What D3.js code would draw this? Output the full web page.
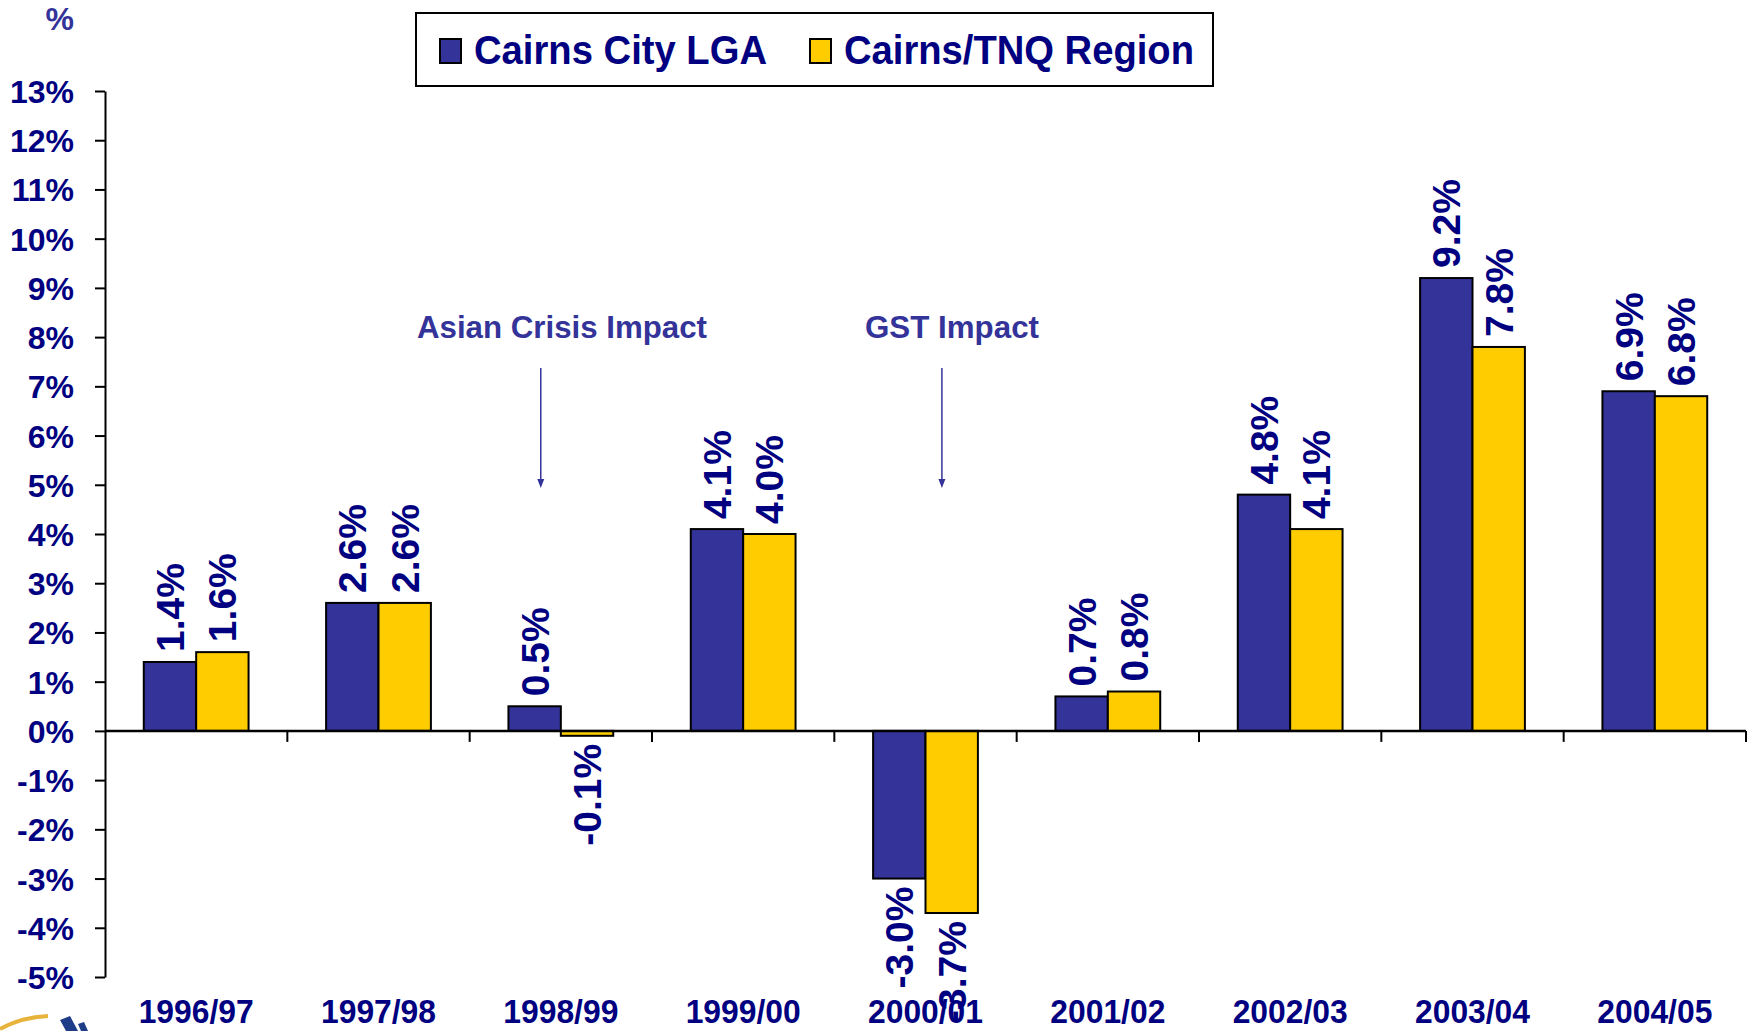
<!DOCTYPE html>
<html>
<head>
<meta charset="utf-8">
<script src="https://cdn.jsdelivr.net/npm/d3@7"></script>
<style>
  body { margin: 0; background: #fff; }
  svg { display: block; font-family: Arial, "Liberation Sans", sans-serif; }
</style>
</head>
<body>
<div class="chart"></div>
<script>
// data
const categories = ["1996/97", "1997/98", "1998/99", "1999/00", "2000/01", "2001/02", "2002/03", "2003/04", "2004/05"];
const seriesNames = ["Cairns City LGA", "Cairns/TNQ Region"];
const cityValues = [1.4, 2.6, 0.5, 4.1, -3.0, 0.7, 4.8, 9.2, 6.9];
const regionValues = [1.6, 2.6, -0.1, 4.0, -3.7, 0.8, 4.1, 7.8, 6.8];
const yTicks = [-5, -4, -3, -2, -1, 0, 1, 2, 3, 4, 5, 6, 7, 8, 9, 10, 11, 12, 13];
const annotations = ["Asian Crisis Impact", "GST Impact"];
const annotationCats = ["1998/99", "2000/01"];

const colors = ["#333399", "#FFCC00"];
const navy = "#000080";

const width = 1748, height = 1031;

const svg = d3.select(".chart")
  .append("svg")
  .attr("width", width)
  .attr("height", height);

const x = d3.scaleBand()
  .domain(categories)
  .range([105, 1746])
  .paddingInner(0)
  .paddingOuter(0);

const x1 = d3.scaleBand()
  .domain(seriesNames)
  .range([0, x.bandwidth()])
  .paddingInner(0)
  .paddingOuter(0.74);

const y = d3.scaleLinear()
  .domain([-5, 13])
  .range([977, 91]);

const rows = categories.map((c, i) => ({
  cat: c,
  vals: [
    { name: seriesNames[0], v: cityValues[i], k: 0 },
    { name: seriesNames[1], v: regionValues[i], k: 1 }
  ]
}));

// y axis
const yAxis = d3.axisLeft(y)
  .tickValues(yTicks)
  .tickSize(10)
  .tickSizeOuter(0)
  .tickPadding(21)
  .tickFormat(d => d + "%");

const gy = svg.append("g")
  .attr("transform", "translate(105,0)")
  .call(yAxis);
gy.select(".domain").attr("stroke", "#000").attr("stroke-width", 2);
gy.selectAll(".tick line").attr("stroke", "#000").attr("stroke-width", 2);
gy.selectAll(".tick text")
  .attr("fill", navy)
  .style("font-size", "32px")
  .style("font-weight", "bold")
  .attr("dy", "0.36em");

// % unit label
svg.append("text")
  .attr("x", 74)
  .attr("y", 30)
  .attr("text-anchor", "end")
  .attr("fill", "#333399")
  .style("font-size", "32px")
  .style("font-weight", "bold")
  .text("%");

// bars
const groups = svg.append("g").selectAll("g")
  .data(rows)
  .join("g")
  .attr("transform", d => `translate(${x(d.cat)},0)`);

groups.selectAll("rect")
  .data(d => d.vals)
  .join("rect")
  .attr("x", d => x1(d.name))
  .attr("width", x1.bandwidth())
  .attr("y", d => y(Math.max(0, d.v)))
  .attr("height", d => Math.abs(y(d.v) - y(0)))
  .attr("fill", d => colors[d.k])
  .attr("stroke", "#000")
  .attr("stroke-width", 2);

// x axis line at zero + ticks between categories
svg.append("line")
  .attr("x1", x.range()[0])
  .attr("x2", x.range()[1])
  .attr("y1", y(0))
  .attr("y2", y(0))
  .attr("stroke", "#000")
  .attr("stroke-width", 2.5);

svg.append("g").selectAll("line")
  .data(categories)
  .join("line")
  .attr("x1", d => x(d) + x.bandwidth())
  .attr("x2", d => x(d) + x.bandwidth())
  .attr("y1", y(0))
  .attr("y2", y(0) + 11)
  .attr("stroke", "#000")
  .attr("stroke-width", 2);

// value labels
groups.selectAll("text.val")
  .data(d => d.vals)
  .join("text")
  .attr("class", "val")
  .attr("transform", d => {
    const cx = x1(d.name) + x1.bandwidth() / 2;
    const yy = d.v >= 0 ? y(d.v) - 10 : y(d.v) + 8;
    return `translate(${cx},${yy}) rotate(-90)`;
  })
  .attr("text-anchor", d => d.v >= 0 ? "start" : "end")
  .attr("dy", "0.36em")
  .attr("fill", navy)
  .style("font-size", "39px")
  .style("font-weight", "bold")
  .text(d => d.v.toFixed(1) + "%");

// category labels
svg.append("g").selectAll("text")
  .data(categories)
  .join("text")
  .attr("x", d => x(d) + x.bandwidth() / 2)
  .attr("y", 1023)
  .attr("text-anchor", "middle")
  .attr("fill", navy)
  .style("font-size", "33px")
  .style("font-weight", "bold")
  .attr("textLength", 115)
  .attr("lengthAdjust", "spacingAndGlyphs")
  .text(d => d);

// annotations with arrows
const annX = [0.39, 0.59];
const annTextX = [417, 865];
const annTextW = [290, 174];
annotations.forEach((t, i) => {
  const ax = x(annotationCats[i]) + x.bandwidth() * annX[i];
  svg.append("text")
    .attr("x", annTextX[i])
    .attr("y", 338)
    .attr("fill", "#333399")
    .style("font-size", "32px")
    .style("font-weight", "bold")
    .attr("textLength", annTextW[i])
    .attr("lengthAdjust", "spacingAndGlyphs")
    .text(t);
  svg.append("line")
    .attr("x1", ax).attr("x2", ax)
    .attr("y1", 368).attr("y2", 482)
    .attr("stroke", "#333399")
    .attr("stroke-width", 1.5);
  svg.append("path")
    .attr("d", `M${ax - 3.5},479 L${ax + 3.5},479 L${ax},488 Z`)
    .attr("fill", "#333399");
});

// legend
const legend = svg.append("g");
legend.append("rect")
  .attr("x", 416).attr("y", 13)
  .attr("width", 797).attr("height", 73)
  .attr("fill", "#fff")
  .attr("stroke", "#000")
  .attr("stroke-width", 2);

const legX = [440, 810];
const legTextX = [474, 844];
const legTextW = [293, 350];
seriesNames.forEach((n, i) => {
  legend.append("rect")
    .attr("x", legX[i]).attr("y", 39)
    .attr("width", 21).attr("height", 24)
    .attr("fill", colors[i])
    .attr("stroke", "#000")
    .attr("stroke-width", 2);
  legend.append("text")
    .attr("x", legTextX[i])
    .attr("y", 64)
    .attr("fill", navy)
    .style("font-size", "41px")
    .style("font-weight", "bold")
    .attr("textLength", legTextW[i])
    .attr("lengthAdjust", "spacingAndGlyphs")
    .text(n);
});

// bit of the logo peeking in at bottom left
svg.append("path")
  .attr("d", "M0,1029 Q22,1017 48,1016")
  .attr("fill", "none")
  .attr("stroke", "#E8B33A")
  .attr("stroke-width", 4);
svg.append("path")
  .attr("d", "M60,1020 L70,1016 L78,1031 L66,1031 Z")
  .attr("fill", "#1F3C88");
svg.append("path")
  .attr("d", "M78,1024 L84,1022 L88,1031 L81,1031 Z")
  .attr("fill", "#1F3C88");
</script>
</body>
</html>
